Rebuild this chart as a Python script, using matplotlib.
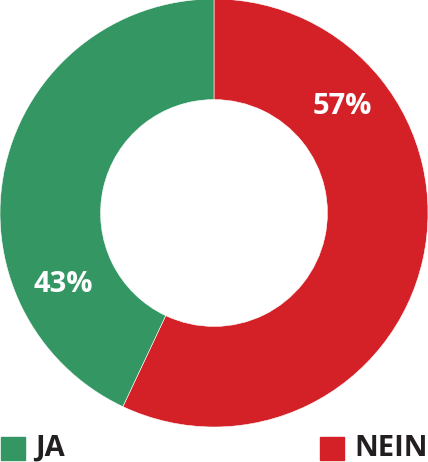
import numpy as np
import matplotlib
matplotlib.use('Agg')
import matplotlib.pyplot as plt
from matplotlib.patches import Rectangle

labels = ['NEIN', 'JA']
values = [57, 43]
colors = ['#d42027', '#349662']
# angle (deg) where each percentage label sits
label_angles = [39.5, 205.2]

plt.rcParams['font.family'] = ['Open Sans', 'DejaVu Sans']

fig = plt.figure(figsize=(4.28, 4.62), dpi=100)
ax = fig.add_axes([0, 35 / 462, 1, 428 / 462])

wedges, _ = ax.pie(values, colors=colors, startangle=90, counterclock=False,
                   radius=1, wedgeprops=dict(width=0.47, edgecolor='white', linewidth=0.4))
ax.set_xlim(-1, 1)
ax.set_ylim(-1, 1)
ax.set_aspect('equal')
ax.axis('off')

# percent labels on the ring
r_lab = 0.78
for v, a in zip(values, label_angles):
    ax.text(r_lab * np.cos(np.radians(a)), r_lab * np.sin(np.radians(a)), f'{v}%',
            ha='center', va='center', color='white', fontsize=21, fontweight='bold')

# legend at the bottom
fig.patches.append(Rectangle((1 / 428, 2 / 462), 24 / 428, 23 / 462,
                             transform=fig.transFigure, color=colors[1]))
fig.text(35 / 428, 14 / 462, labels[1], ha='left', va='center', fontsize=21,
         fontweight='bold', color='#231f20')
fig.patches.append(Rectangle((320 / 428, 2 / 462), 24 / 428, 23 / 462,
                             transform=fig.transFigure, color=colors[0]))
fig.text(354 / 428, 14 / 462, labels[0], ha='left', va='center', fontsize=21,
         fontweight='bold', color='#231f20')

fig.savefig('out.png', dpi=100)
